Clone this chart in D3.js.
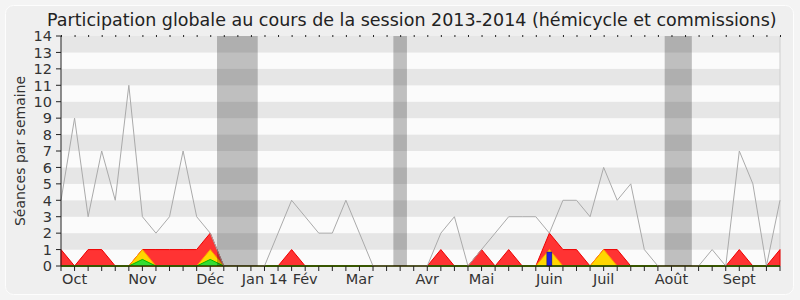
<!DOCTYPE html>
<html>
<head>
<meta charset="utf-8">
<script src="https://cdn.jsdelivr.net/npm/d3@7"></script>
<style>
  body { margin: 0; background: #f4f4f4; }
  svg { display: block; font-family: "DejaVu Sans", Verdana, sans-serif; }
</style>
</head>
<body>
<div id="chart"></div>
<script>
// weekly values, week 0 = first week of October 2013
const seances = [4, 9, 3, 7, 4, 11, 3, 2, 3, 7, 3, 2, 0, 0, 0, 0, 2, 4, 3, 2,
  2, 4, 2, 0, 0, 0, 0, 0, 2, 3, 0, 1, 2, 3, 3, 3, 2, 4, 4, 3,
  6, 4, 5, 1, 0, 0, 0, 0, 1, 0, 7, 5, 0, 4]
const presences = [1, 0, 1, 1, 0, 0, 1, 1, 1, 1, 1, 2, 0, 0, 0, 0, 0, 1, 0, 0,
  0, 0, 0, 0, 0, 0, 0, 0, 1, 0, 0, 1, 0, 1, 0, 0, 2, 1, 1, 0,
  1, 1, 0, 0, 0, 0, 0, 0, 0, 0, 1, 0, 0, 1]
const interventions = [0, 0, 0, 0, 0, 0, 1, 0, 0, 0, 0, 1, 0, 0, 0, 0, 0, 0, 0, 0,
  0, 0, 0, 0, 0, 0, 0, 0, 0, 0, 0, 0, 0, 0, 0, 0, 1, 0, 0, 0,
  1, 0, 0, 0, 0, 0, 0, 0, 0, 0, 0, 0, 0, 0]
const commissions = [0, 0, 0, 0, 0, 0, 0.4, 0, 0, 0, 0, 0.4, 0, 0, 0, 0, 0, 0, 0, 0,
  0, 0, 0, 0, 0, 0, 0, 0, 0, 0, 0, 0, 0, 0, 0, 0, 0, 0, 0, 0,
  0, 0, 0, 0, 0, 0, 0, 0, 0, 0, 0, 0, 0, 0]
const questions = [{week: 36, value: 0.85}]
// vacation periods [first week, last week]
const vacances = [[12, 14], [25, 25], [45, 46]]
const months = ["Oct", "Nov", "Déc", "Jan 14", "Fév", "Mar", "Avr", "Mai", "Juin", "Juil", "Août", "Sept"]
const monthWeeks = [1, 6, 11, 15, 18, 22, 27, 31, 36, 40, 45, 50]
const yTicks = d3.range(0, 15)

const width = 800
const height = 300
const margin = {top: 36, bottom: 34, right: 20, left: 61}
const chartWidth = width - margin.left - margin.right
const chartHeight = height - margin.top - margin.bottom

const svg = d3.select('#chart').append('svg')
  .attr('width', width)
  .attr('height', height)

svg.append('rect')
  .attr('x', 5.5).attr('y', 5.5)
  .attr('width', 788).attr('height', 289)
  .attr('rx', 8)
  .attr('fill', '#efefef')
  .attr('stroke', '#fdfdfd')

// title is drawn narrower than the font's natural width, like the original
const title = svg.append('text')
  .attr('font-size', 18.5)
  .attr('fill', '#222')
  .text('Participation globale au cours de la session 2013-2014 (hémicycle et commissions)')
const titleW = title.node().getComputedTextLength()
title.attr('transform', `translate(47, 26) scale(${730 / titleW}, 1)`)

const g = svg.append('g').attr('transform', `translate(${margin.left}, ${margin.top})`)

const x = d3.scaleLinear()
  .domain([0, seances.length - 1])
  .range([0, chartWidth])

const y = d3.scaleLinear()
  .domain([0, 14])
  .range([chartHeight, 0])

// background stripes
g.append('g').selectAll('rect')
  .data(d3.range(0, 14))
  .enter().append('rect')
  .attr('x', 0)
  .attr('width', chartWidth)
  .attr('y', d => y(d + 1))
  .attr('height', d => y(d) - y(d + 1))
  .attr('fill', d => d % 2 ? '#e6e6e6' : '#fbfbfb')

g.append('line')
  .attr('x1', chartWidth).attr('x2', chartWidth)
  .attr('y1', 0).attr('y2', chartHeight)
  .attr('stroke', '#cfcfcf')

const area = values => d3.area()
  .x((d, i) => x(i))
  .y0(y(0))
  .y1(d => y(d))(values)

g.append('path').attr('d', area(presences))
  .attr('fill', '#ff3333').attr('stroke', '#ee0000').attr('stroke-width', 1)
g.append('path').attr('d', area(interventions))
  .attr('fill', '#ffd700').attr('stroke', '#ff9900').attr('stroke-width', 1)
g.append('path').attr('d', area(commissions))
  .attr('fill', '#33dd33').attr('stroke', '#00bb00').attr('stroke-width', 1)

g.append('g').selectAll('rect')
  .data(questions)
  .enter().append('rect')
  .attr('x', d => x(d.week) - 2.5)
  .attr('width', 5)
  .attr('y', d => y(d.value))
  .attr('height', d => y(0) - y(d.value))
  .attr('fill', '#2222dd')
  .attr('stroke', '#111177')
  .attr('stroke-width', 0.5)

const line = d3.line()
  .x((d, i) => x(i))
  .y(d => y(d))

g.append('path').attr('d', line(seances))
  .attr('fill', 'none')
  .attr('stroke', '#aaaaaa')
  .attr('stroke-width', 1)

// vacations
g.append('g').selectAll('rect')
  .data(vacances)
  .enter().append('rect')
  .attr('x', d => x(d[0] - 0.5))
  .attr('width', d => x(d[1] + 0.5) - x(d[0] - 0.5))
  .attr('y', 0)
  .attr('height', chartHeight)
  .attr('fill', 'rgba(0,0,0,0.24)')

// axes
const xAxis = g.append('g').attr('transform', `translate(0, ${chartHeight})`)
xAxis.append('line')
  .attr('x1', 0).attr('x2', chartWidth)
  .attr('stroke', '#330000')
xAxis.selectAll('.tick')
  .data(d3.range(seances.length))
  .enter().append('line')
  .attr('x1', d => x(d)).attr('x2', d => x(d))
  .attr('y1', 0).attr('y2', 5)
  .attr('stroke', '#222')
xAxis.selectAll('.month')
  .data(months)
  .enter().append('text')
  .attr('x', (d, i) => x(monthWeeks[i]))
  .attr('y', 18)
  .attr('text-anchor', 'middle')
  .attr('font-size', 14.5)
  .attr('fill', '#333')
  .text(d => d)

g.append('g').selectAll('line')
  .data(d3.range(seances.length))
  .enter().append('line')
  .attr('x1', d => x(d) + 0.5).attr('x2', d => x(d) + 0.5)
  .attr('y1', -1).attr('y2', 1)
  .attr('stroke', '#222')

const yAxis = g.append('g')
yAxis.append('line')
  .attr('y1', 0).attr('y2', chartHeight)
  .attr('stroke', '#222')
yAxis.selectAll('.tick')
  .data(yTicks)
  .enter().append('line')
  .attr('x1', -5).attr('x2', 0)
  .attr('y1', d => y(d)).attr('y2', d => y(d))
  .attr('stroke', '#222')
yAxis.selectAll('.label')
  .data(yTicks)
  .enter().append('text')
  .attr('x', -9)
  .attr('y', d => y(d))
  .attr('dy', '0.36em')
  .attr('text-anchor', 'end')
  .attr('font-size', 14.5)
  .attr('fill', '#333')
  .text(d => d)

svg.append('text')
  .attr('transform', `translate(25, ${margin.top + chartHeight / 2}) rotate(-90)`)
  .attr('text-anchor', 'middle')
  .attr('font-size', 14)
  .attr('fill', '#333')
  .text('Séances par semaine')
</script>
</body>
</html>
